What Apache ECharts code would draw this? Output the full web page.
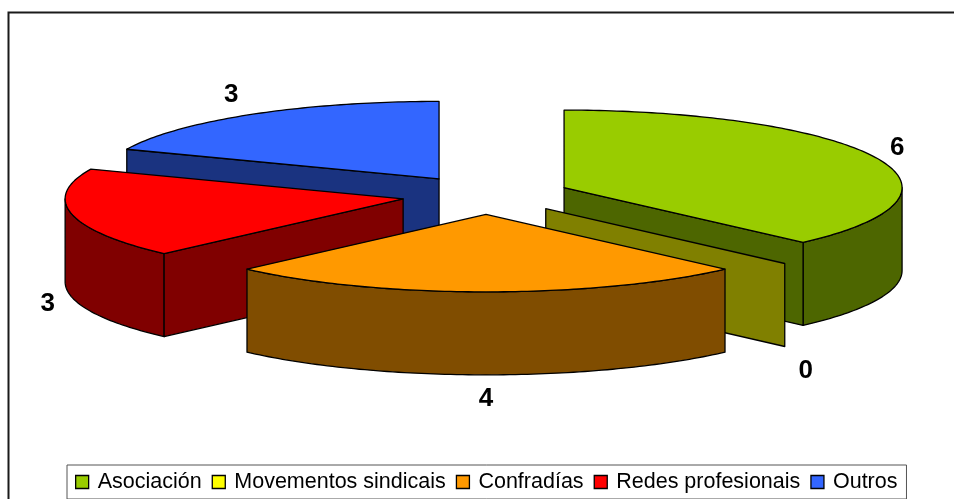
<!DOCTYPE html>
<html>
<head>
<meta charset="utf-8">
<style>
  html, body { margin: 0; padding: 0; background: #fff; }
  #main { width: 954px; height: 499px; }
</style>
</head>
<body>
<div id="main"></div>
<script src="https://cdn.jsdelivr.net/npm/echarts@6/dist/echarts.min.js"></script>
<script>
var categories = ['Asociación', 'Movementos sindicais', 'Confradías', 'Redes profesionais', 'Outros']
var values = [6, 0, 4, 3, 3]
var topColors = ['#99cc00', '#ffff00', '#ff9900', '#ff0000', '#3366ff']
var wallColors = ['#4d6600', '#808000', '#804d00', '#800000', '#1a3380']

// back to front, the pie is not really 3D
var stacking = [3, 4, 5, 2, 1]
var labelNudge = [[21, -10], [21, 24], [0, 24], [-24, 7], [-20, -20]]

var pie = { cx: 486, cy: 195, rx: 338, ry: 77.5, depth: 83, explode: 0.25 }
var total = values.reduce(function (a, b) { return a + b }, 0)

function rad(deg) {
  return deg * Math.PI / 180
}

// angle is clockwise from 12 o'clock
function rim(c, deg, drop) {
  return [
    c[0] + pie.rx * Math.sin(rad(deg)),
    c[1] - pie.ry * Math.cos(rad(deg)) + (drop || 0)
  ]
}

function arc(c, from, to, drop) {
  var pts = []
  var n = Math.max(1, Math.ceil(Math.abs(to - from)))
  for (var i = 0; i <= n; i++) {
    pts.push(rim(c, from + (to - from) * i / n, drop))
  }
  return pts
}

function face(points, fill) {
  return {
    type: 'polygon',
    shape: { points: points },
    style: { fill: fill, stroke: '#000', lineWidth: 1.3, lineJoin: 'round' }
  }
}

function rayWall(c, deg, fill) {
  var p = rim(c, deg)
  return face([c, p, [p[0], p[1] + pie.depth], [c[0], c[1] + pie.depth]], fill)
}

function makeRender(index) {
  return function (params, api) {
    var before = values.slice(0, index).reduce(function (a, b) { return a + b }, 0)
    var start = before / total * 360
    var end = start + api.value(0) / total * 360
    var mid = (start + end) / 2
    var base = [pie.cx, pie.cy]
    var m = rim(base, mid)
    var c = [
      base[0] + (m[0] - base[0]) * pie.explode,
      base[1] + (m[1] - base[1]) * pie.explode
    ]
    var children = []

    // only the faces turned to the viewer
    var from = Math.max(start, 90)
    var to = Math.min(end, 270)
    if (to > from) {
      children.push(face(
        arc(c, from, to, 0).concat(arc(c, to, from, pie.depth)),
        wallColors[index]
      ))
    }
    if (Math.sin(rad(start)) < -0.001) {
      children.push(rayWall(c, start, wallColors[index]))
    }
    if (Math.sin(rad(end)) > 0.001) {
      children.push(rayWall(c, end, wallColors[index]))
    }
    if (end > start) {
      children.push(face([c].concat(arc(c, start, end, 0)), topColors[index]))
    }

    var anchor = rim(c, mid, mid > 90 && mid < 270 ? pie.depth : 0)
    children.push({
      type: 'text',
      style: {
        text: String(api.value(0)),
        x: anchor[0] + labelNudge[index][0],
        y: anchor[1] + labelNudge[index][1],
        align: 'center',
        verticalAlign: 'middle',
        fill: '#000',
        font: 'bold 26px "Liberation Sans", Arial, sans-serif'
      }
    })
    return { type: 'group', children: children }
  }
}

var myChart = echarts.init(document.getElementById('main'))

myChart.setOption({
  animation: false,
  graphic: [
    {
      type: 'rect',
      shape: { x: 8.5, y: 12.5, width: 1000, height: 600 },
      style: { fill: 'none', stroke: '#1a1a1a', lineWidth: 2 },
      silent: true
    }
  ],
  legend: {
    data: categories,
    left: 67,
    top: 465,
    orient: 'horizontal',
    icon: 'rect',
    itemWidth: 13,
    itemHeight: 13,
    itemGap: 10,
    padding: [6, 9, 6, 8],
    borderColor: '#555',
    borderWidth: 1,
    backgroundColor: '#fff',
    selectedMode: false,
    itemStyle: { borderColor: '#000', borderWidth: 1.3 },
    textStyle: {
      color: '#000',
      fontSize: 21.5,
      fontFamily: '"Liberation Sans", Arial, sans-serif',
      padding: [0, 0, 0, 4]
    }
  },
  series: categories.map(function (name, i) {
    return {
      type: 'custom',
      name: name,
      coordinateSystem: 'none',
      silent: true,
      z: stacking[i],
      itemStyle: { color: topColors[i] },
      renderItem: makeRender(i),
      data: [[values[i]]]
    }
  })
})

window.addEventListener('resize', function () {
  myChart.resize()
})
</script>
</body>
</html>
